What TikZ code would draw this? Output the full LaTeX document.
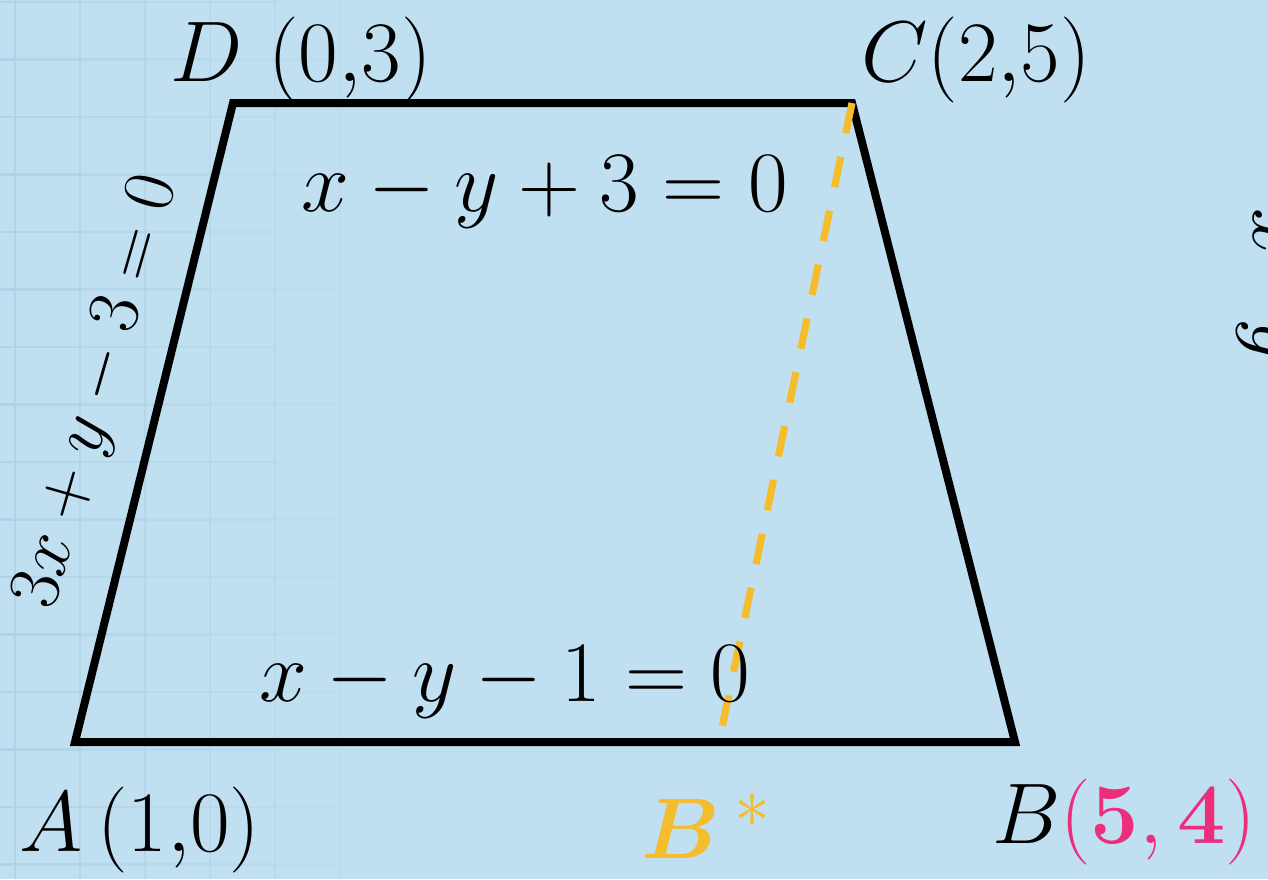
\documentclass[tikz,border=0pt]{standalone}
\usepackage{amsmath,amssymb}
\usetikzlibrary{positioning}
\definecolor{bgblue}{RGB}{192,224,241}
\definecolor{gridblue}{RGB}{176,210,231}
\definecolor{borange}{RGB}{245,188,44}
\definecolor{bpink}{RGB}{236,46,124}

\begin{document}
\begin{tikzpicture}[x=0.5pt,y=-0.5pt,
  edge/.style={line width=4pt,line join=miter},
  aux/.style={borange,line width=3.6pt,dash pattern=on 15.5pt off 12pt},
  lbl/.style={inner sep=0pt,font=\Huge,scale=1.73}]
% background and faint grid
\fill[bgblue] (0,0) rectangle (1268,879);
\useasboundingbox (0,0) rectangle (1268,879);
\clip (0,0) rectangle (1268,879);
\foreach \i in {0,...,6}
  \draw[gridblue,line width=1.3pt,opacity={0.9-\i/7}] (15+65*\i,0) -- (15+65*\i,879);
\foreach \j in {0,...,15}
  \foreach \i in {0,...,6}
    \draw[gridblue,line width=1.3pt,opacity={0.9-\i/7}] (65*\i-50,2+57.5*\j) -- (65*\i+15,2+57.5*\j);
% corners
\coordinate (A) at (75,742);
\coordinate (B) at (1015,742);
\coordinate (C) at (852,103);
\coordinate (D) at (233,103);
\coordinate (Bs) at (719,742);
% sides
\draw[edge] (A) -- (B) -- (C) -- (D) -- cycle;
\draw[aux] (C) -- (Bs);
% labels
\node[lbl] (labD) at (301,60) {$D\ (0{,}3)$};
\node[lbl] (labC) at (976,60) {$C(2{,}5)$};
\node[lbl] (labA) at (140,830) {$A\,(1{,}0)$};
\node[lbl] (labB) at (1124,822) {$B\textcolor{bpink}{(\mathbf{5},\mathbf{4})}$};
\node[lbl,text=borange] (labBs) at (707,826) {$\boldsymbol{B}\,^{*}$};
\node[lbl] (eqDC) at (545,192) {$x-y+3=0$};
\node[lbl] (eqAB) at (505,682) {$x-y-1=0$};
\node[lbl,rotate=74,scale=0.85] (eqAD) at (99,392) {$3x+y-3=0$};
\node[lbl,rotate=-90,anchor=base west] (eqR) at (1253,208) {$x\mkern13mu y$};
\end{tikzpicture}
\end{document}
